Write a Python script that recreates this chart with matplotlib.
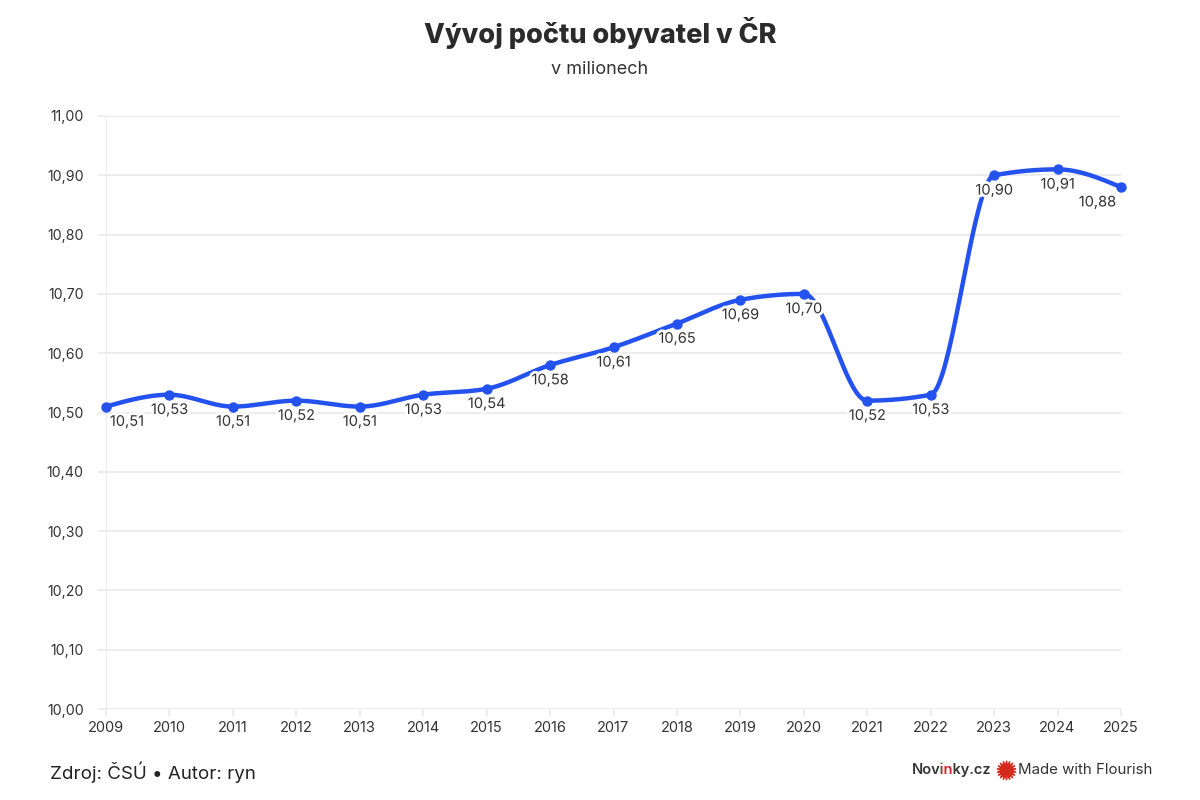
import numpy as np
import matplotlib
matplotlib.use("Agg")
import matplotlib.pyplot as plt
import matplotlib.patheffects as pe
from matplotlib.font_manager import FontProperties
from matplotlib.transforms import Bbox

# ---- data ----
years = [2009, 2010, 2011, 2012, 2013, 2014, 2015, 2016, 2017, 2018, 2019, 2020, 2021, 2022, 2023, 2024, 2025]
population = [10.51, 10.53, 10.51, 10.52, 10.51, 10.53, 10.54, 10.58, 10.61, 10.65, 10.69, 10.70, 10.52, 10.53, 10.90, 10.91, 10.88]
y_ticks = [10.0, 10.1, 10.2, 10.3, 10.4, 10.5, 10.6, 10.7, 10.8, 10.9, 11.0]
title = "Vývoj počtu obyvatel v ČR"
subtitle = "v milionech"
source = "Zdroj: ČSÚ • Autor: ryn"

BLUE = "#2452ef"
TXT = "#333333"
GRID = "#ebebeb"
FONT = ["Inter", "DejaVu Sans"]
plt.rcParams["font.family"] = FONT


def monotone_curve(x, y, n=40):
    """d3 curveMonotoneX style rendering between points."""
    x = np.asarray(x, float)
    y = np.asarray(y, float)
    h = np.diff(x)
    s = np.diff(y) / h
    m = np.zeros_like(y)
    for i in range(1, len(x) - 1):
        s0, s1 = s[i - 1], s[i]
        p = (s0 * h[i] + s1 * h[i - 1]) / (h[i - 1] + h[i])
        m[i] = (np.sign(s0) + np.sign(s1)) * min(abs(s0), abs(s1), 0.5 * abs(p))
    m[0] = (3 * s[0] - m[1]) / 2
    m[-1] = (3 * s[-1] - m[-2]) / 2
    xs, ys = [], []
    for i in range(len(x) - 1):
        t = np.linspace(0, 1, n)
        h00 = 2 * t**3 - 3 * t**2 + 1
        h10 = t**3 - 2 * t**2 + t
        h01 = -2 * t**3 + 3 * t**2
        h11 = t**3 - t**2
        xs.append(x[i] + t * h[i])
        ys.append(h00 * y[i] + h10 * h[i] * m[i] + h01 * y[i + 1] + h11 * h[i] * m[i + 1])
    return np.concatenate(xs), np.concatenate(ys)


fig = plt.figure(figsize=(12, 8), dpi=100)
ax = fig.add_axes([106 / 1200, 1 - 709 / 800, (1121 - 106) / 1200, (709 - 116) / 800])

ax.set_xlim(years[0], years[-1])
ax.set_ylim(y_ticks[0], y_ticks[-1])
ax.set_yticks(y_ticks)
ax.set_yticklabels([f"{v:.2f}".replace(".", ",") for v in y_ticks])
ax.set_xticks(years)
ax.set_xticklabels([str(y) for y in years])
for sp in ax.spines.values():
    sp.set_visible(False)
ax.grid(axis="y", color=GRID, linewidth=1.3)
ax.axvline(years[0], color=GRID, linewidth=1.3, zorder=0, ymin=0, ymax=1)
ax.tick_params(axis="y", length=6, color=GRID, width=1.3, pad=10, labelsize=10.2, labelcolor=TXT)
ax.tick_params(axis="x", length=5, color=GRID, width=1.3, pad=4, labelsize=10.5, labelcolor=TXT)
ax.set_axisbelow(True)

cx, cy = monotone_curve(years, population)
ax.plot(cx, cy, color=BLUE, linewidth=3.2, solid_capstyle="round", clip_on=False, zorder=3)
ax.scatter(years, population, s=42, color=BLUE, zorder=4, clip_on=False)

halo = [pe.withStroke(linewidth=4, foreground="white")]
for i, (x, y) in enumerate(zip(years, population)):
    dx = 0
    if i == 0:
        dx = 15
    elif i == len(years) - 1:
        dx = -17
    ax.annotate(f"{y:.2f}".replace(".", ","), (x, y), xytext=(dx, -11), textcoords="offset points",
                ha="center", va="center", fontsize=10.5, color=TXT, path_effects=halo, zorder=5,
                annotation_clip=False)

fig.text(0.5, 1 - 33 / 800, title, ha="center", va="center", fontsize=19.5, fontweight="heavy", color="#2b2b2b")
fig.text(0.5, 1 - 70 / 800, subtitle, ha="center", va="center", fontsize=13, color=TXT)
fig.text(50 / 1200, 1 - 772 / 800, source, ha="left", va="center", fontsize=13.5, color="#222222")

# Novinky.cz logo text (with red "in") and Flourish credit
fig.canvas.draw()
r = fig.canvas.get_renderer()
prop = FontProperties(family=FONT, size=10.5, weight="semibold")


def w(s):
    return r.get_text_width_height_descent(s, prop, ismath=False)[0]


x0 = 912
ycen = 800 - 770
xa = x0 + w("Nov") + 0.8
xb = x0 + w("Novin") + 0.8
regions = [((0, xa), "#333333"), ((xa, xb), "#d6202a"), ((xb, 1200), "#333333")]
for (lo, hi), col in regions:
    t = fig.text(x0 / 1200, ycen / 800, "Novinky.cz", ha="left", va="center", fontproperties=prop, color=col)
    t.set_clip_on(True)
    t.set_clip_box(Bbox.from_extents(lo, 0, hi, 800))

fig.add_artist(plt.Line2D([1006 / 1200], [1 - 770 / 800], marker=(18, 1, 0), markersize=14,
                          color="#d52b1e", transform=fig.transFigure))
fig.text(1018 / 1200, 1 - 770 / 800, "Made with Flourish", ha="left", va="center", fontsize=10.8,
         color="#333333")

fig.savefig("out.png", dpi=100, facecolor="white")
